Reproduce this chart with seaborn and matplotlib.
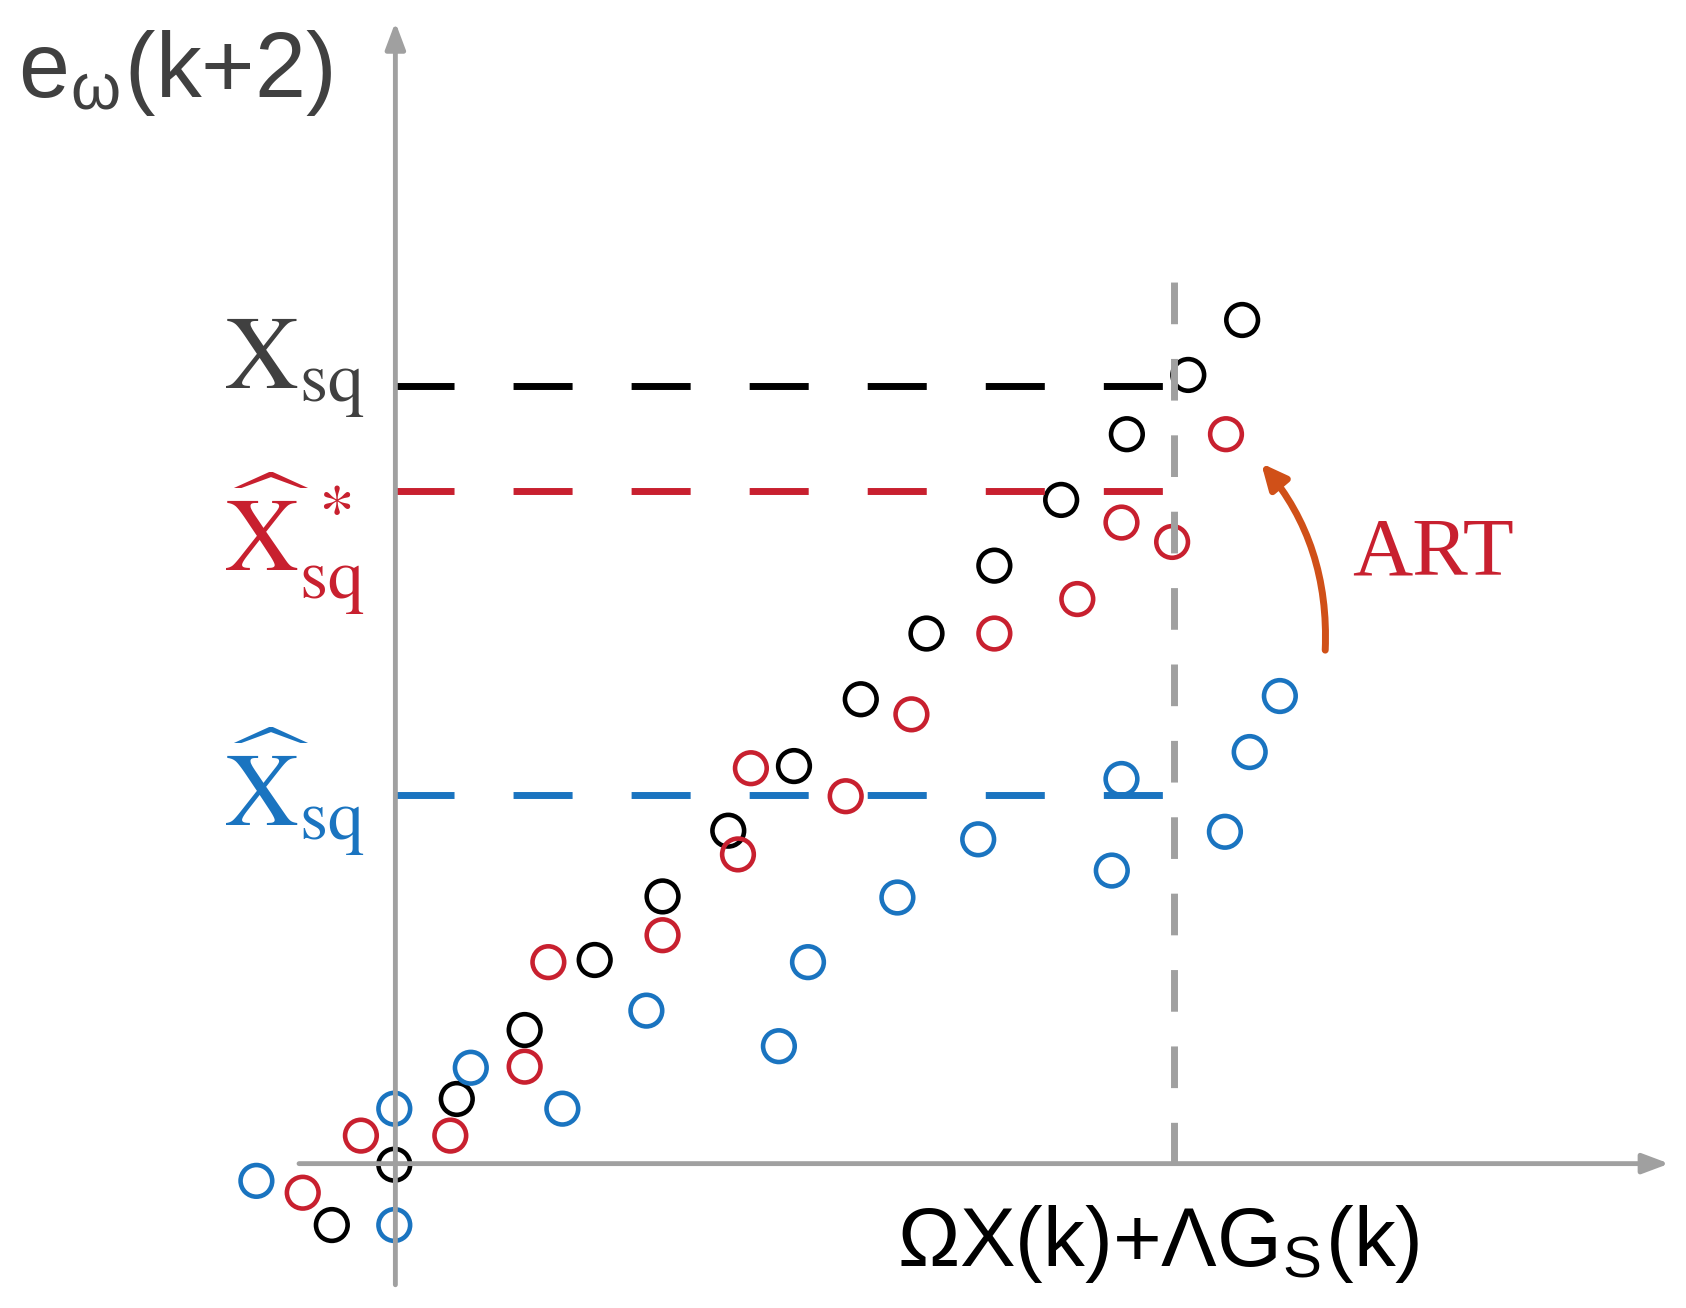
import numpy as np
import pandas as pd
import matplotlib.pyplot as plt
import seaborn as sns

# schematic values (arbitrary units, origin at axis crossing)
black_x = [-59, -1, 57, 120, 185, 248, 309, 370, 432, 493, 556, 618, 679, 736, 786]
black_y = [-57, -1, 60, 124, 189, 248, 309, 369, 431, 492, 555, 616, 677, 732, 783]
red_x = [-86, -32, 51, 120, 142, 248, 318, 330, 418, 479, 556, 633, 674, 721, 771]
red_y = [-27, 26, 26, 90, 187, 212, 287, 367, 341, 417, 492, 524, 595, 577, 677]
blue_x = [-129, -1, -1, 70, 155, 233, 356, 383, 466, 541, 665, 674, 770, 793, 821]
blue_y = [-16, 51, -57, 89, 51, 142, 109, 187, 247, 301, 272, 357, 308, 382, 434]

level_labels = [r'$\mathrm{X}_{\mathrm{sq}}$', r'$\widehat{\mathrm{X}}^{\,*}_{\mathrm{sq}}$',
                r'$\widehat{\mathrm{X}}_{\mathrm{sq}}$']
level_values = [722, 624, 342]
label_y = [738, 575, 345]
level_colors = ['black', '#c8202f', '#1a74c0']
x_limit = 723

df = pd.concat([
    pd.DataFrame({'x': black_x, 'y': black_y, 'series': 'black'}),
    pd.DataFrame({'x': red_x, 'y': red_y, 'series': 'red'}),
    pd.DataFrame({'x': blue_x, 'y': blue_y, 'series': 'blue'}),
])

sns.set_style('white')
plt.rcParams['mathtext.fontset'] = 'stix'
fig = plt.figure(figsize=(16.86, 13.08), dpi=100)
ax = fig.add_axes([0, 0, 1, 1])
ax.set_xlim(-367, 1565 - 367)
ax.set_ylim(1080 - 1214, 1080)
ax.axis('off')

gray = '#a0a0a0'
ax.annotate('', xy=(1185, 0), xytext=(-92, 0),
            arrowprops=dict(arrowstyle='-|>,head_length=1.6,head_width=0.6', color=gray, lw=3.5))
ax.annotate('', xy=(0, 1062), xytext=(0, -115),
            arrowprops=dict(arrowstyle='-|>,head_length=1.6,head_width=0.6', color=gray, lw=3.5))
ax.plot([x_limit, x_limit], [0, 832], color=gray, lw=5, ls=(0, (6, 5)))

for lab, v, ly, c in zip(level_labels, level_values, label_y, level_colors):
    ax.plot([0, x_limit], [v, v], color=c, lw=5, ls=(0, (8.5, 8.5)))
    ax.text(-28, ly, lab, color=c if c != 'black' else '#404040', fontsize=74,
            ha='right', va='center')

pal = {'black': 'black', 'red': '#c8202f', 'blue': '#1a74c0'}
for name, col in pal.items():
    sub = df[df.series == name]
    sns.scatterplot(data=sub, x='x', y='y', ax=ax, marker='o', s=520,
                    facecolors='none', edgecolor=col, linewidth=3.3, legend=False)

ax.annotate('', xy=(802, 652), xytext=(863, 474),
            arrowprops=dict(arrowstyle='-|>,head_length=1.5,head_width=0.7', color='#d05018',
                            lw=5, connectionstyle='arc3,rad=0.2'))
ax.text(963, 565, 'ART', color='#c8202f', fontsize=60, family='Liberation Serif',
        ha='center', va='center')

ax.text(-350, 1012, r'e$_{\mathregular{ω}}$(k+2)', color='#404040', fontsize=66, va='center',
        family=['Liberation Sans', 'DejaVu Sans'])
ax.text(708, -75, r'ΩX(k)+ΛG$_{\mathregular{S}}$(k)', color='black', fontsize=60,
        ha='center', va='center', family=['Liberation Sans', 'DejaVu Sans'])

fig.savefig('out.png', dpi=100)
